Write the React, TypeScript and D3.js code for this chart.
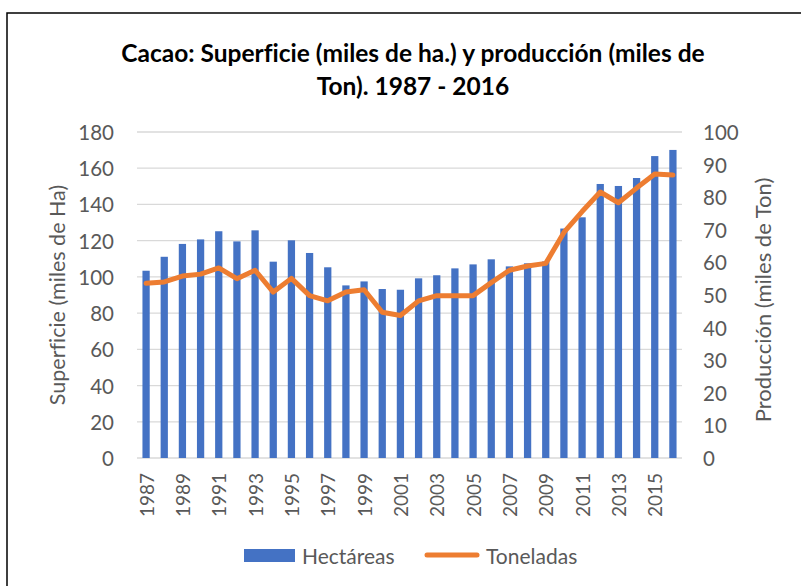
import React from "react";
import * as d3 from "d3";

const years: number[] = [1987,1988,1989,1990,1991,1992,1993,1994,1995,1996,1997,1998,1999,2000,2001,2002,2003,2004,2005,2006,2007,2008,2009,2010,2011,2012,2013,2014,2015,2016];
const hectareas: number[] = [103.4,111.1,118.2,120.7,125.2,119.6,125.7,108.4,120.2,113.2,105.3,95.3,97.5,93.3,92.9,99.2,100.9,104.7,106.9,109.7,105.8,107.5,108.5,126.7,132.9,151.3,150.2,154.6,166.7,170.1];
const toneladas: number[] = [53.6,54.0,55.8,56.4,58.3,55.0,57.6,50.9,55.1,49.8,48.2,50.9,51.6,44.7,43.7,48.2,49.8,49.8,49.8,53.8,57.6,58.9,59.7,69.2,75.6,81.6,78.3,82.8,87.1,86.8];
const leftTicks: number[] = [0,20,40,60,80,100,120,140,160,180];
const rightTicks: number[] = [0,10,20,30,40,50,60,70,80,90,100];
const titleLines: string[] = ["Cacao: Superficie (miles de ha.) y producción (miles de", "Ton). 1987 - 2016"];

const FONT = "Lato, 'Open Sans', sans-serif";
const TXT = "#595959";

export default function App() {
  const W = 801, H = 586;
  const x0 = 137, x1 = 682, yTop = 132, yBot = 458;
  const x = d3.scaleBand<string>().domain(years.map(String)).range([x0, x1]).paddingInner(0.6).paddingOuter(0.3);
  const yL = d3.scaleLinear().domain([0, 180]).range([yBot, yTop]);
  const yR = d3.scaleLinear().domain([0, 100]).range([yBot, yTop]);
  const cx = (y: number) => (x(String(y)) as number) + x.bandwidth() / 2;
  const line = d3.line<number>().x((_, i) => cx(years[i])).y((d) => yR(d));

  return (
    <svg width={W} height={H} style={{ position: "absolute", left: 0, top: 0, background: "#fff", fontVariantLigatures: "none" }} fontFamily={FONT}>
      <rect x={0} y={0} width={W} height={H} fill="#fff" />
      <path d={`M7,${H} L7,13 L${W},13`} fill="none" stroke="#000" strokeWidth={1.5} />
      {titleLines.map((t, i) => (
        <text key={i} x={413} y={52 + i * 33} textAnchor="middle" dominantBaseline="central" fontWeight="bold" fontSize={24.5} fill="#000">{t}</text>
      ))}
      {leftTicks.map((t) => (
        <line key={t} x1={x0} x2={x1} y1={yL(t)} y2={yL(t)} stroke="#d9d9d9" strokeWidth={1.3} />
      ))}
      {leftTicks.map((t) => (
        <text key={"l" + t} x={114} y={yL(t)} textAnchor="end" dominantBaseline="central" fontSize={20.5} fill={TXT}>{t}</text>
      ))}
      {rightTicks.map((t) => (
        <text key={"r" + t} x={703} y={yR(t)} textAnchor="start" dominantBaseline="central" fontSize={20.5} fill={TXT}>{t}</text>
      ))}
      {years.map((yr, i) => (
        <rect key={yr} x={x(String(yr))} y={yL(hectareas[i])} width={x.bandwidth()} height={yBot - yL(hectareas[i])} fill="#4472c4" />
      ))}
      <path d={line(toneladas) || ""} fill="none" stroke="#ed7d31" strokeWidth={5} strokeLinejoin="round" strokeLinecap="round" />
      {years.filter((_, i) => i % 2 === 0).map((yr) => (
        <text key={"x" + yr} transform={`translate(${cx(yr)},473) rotate(-90)`} textAnchor="end" dominantBaseline="central" fontSize={19} fill={TXT}>{yr}</text>
      ))}
      <text transform="translate(57,295) rotate(-90)" textAnchor="middle" dominantBaseline="central" fontSize={21.5} fill={TXT}>Superficie (miles de Ha)</text>
      <text transform="translate(762,300) rotate(-90)" textAnchor="middle" dominantBaseline="central" fontSize={22} fill={TXT}>Producción (miles de Ton)</text>
      <rect x={244} y={549} width={51} height={13} fill="#4472c4" />
      <text x={302} y={555} dominantBaseline="central" fontSize={21} fill={TXT}>Hectáreas</text>
      <line x1={427} x2={477} y1={555} y2={555} stroke="#ed7d31" strokeWidth={5} strokeLinecap="round" />
      <text x={486} y={555} dominantBaseline="central" fontSize={21} fill={TXT}>Toneladas</text>
    </svg>
  );
}
